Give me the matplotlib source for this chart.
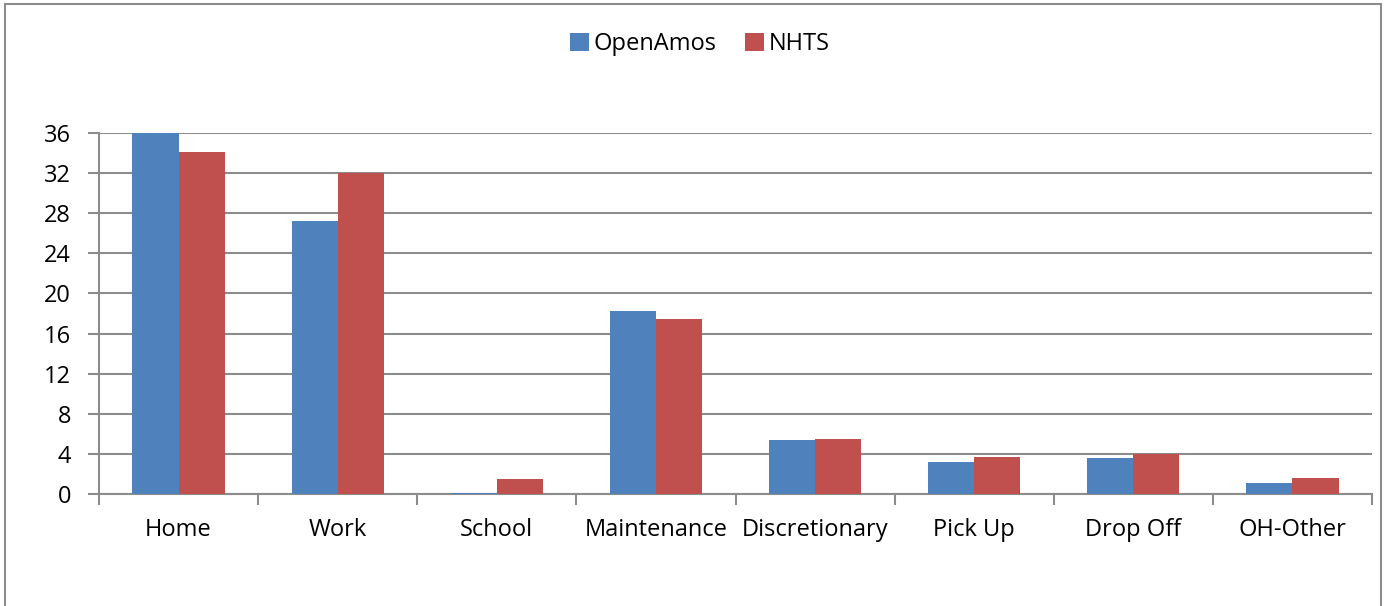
import numpy as np
import matplotlib.pyplot as plt
from matplotlib.patches import Rectangle

categories = ["Home", "Work", "School", "Maintenance", "Discretionary",
              "Pick Up", "Drop Off", "OH-Other"]
openamos = [36.0, 27.25, 0.05, 18.25, 5.38, 3.16, 3.56, 1.07]
nhts = [34.1, 32.0, 1.47, 17.45, 5.45, 3.72, 3.99, 1.63]
yticks = list(range(0, 37, 4))

plt.rcParams["font.family"] = ["Open Sans", "DejaVu Sans"]
grey = "#8c8c8c"
fs = 17

fig = plt.figure(figsize=(13.9, 6.06), dpi=100)
ax = fig.add_axes([99 / 1390, 112 / 606, (1372 - 99) / 1390, (494 - 133) / 606])

x = np.arange(len(categories))
w = 0.29
ax.bar(x - w / 2, openamos, width=w, color="#4f81bd", label="OpenAmos", zorder=3)
ax.bar(x + w / 2, nhts, width=w, color="#c0504d", label="NHTS", zorder=3)

ax.set_xlim(-0.5, len(categories) - 0.5)
ax.set_ylim(0, 36)
ax.set_yticks(yticks)
ax.tick_params(axis="y", length=8, width=1.5, color=grey, labelsize=fs, pad=12)

# category boundaries as tick marks, labels at centres
ax.set_xticks(np.arange(len(categories) + 1) - 0.5)
ax.set_xticklabels([])
ax.tick_params(axis="x", which="major", length=8, width=1.5, color=grey)
ax.set_xticks(x, minor=True)
ax.set_xticklabels(categories, minor=True, fontsize=fs)
ax.tick_params(axis="x", which="minor", length=0, pad=17)

ax.yaxis.grid(True, color=grey, linewidth=1.5, zorder=0)
ax.set_axisbelow(True)
for s in ["top", "right"]:
    ax.spines[s].set_visible(False)
for s in ["left", "bottom"]:
    ax.spines[s].set_color(grey)
    ax.spines[s].set_linewidth(1.5)

fig.legend(loc="center", bbox_to_anchor=(700 / 1390, 1 - 44 / 606), ncol=2,
           frameon=False, fontsize=fs, handlelength=0.8, handleheight=0.8,
           handletextpad=0.2, columnspacing=1.2)

fig.patches.append(Rectangle((5 / 1390, -0.05), (1381 - 5) / 1390, 1.05 - 4 / 606,
                             transform=fig.transFigure, fill=False,
                             edgecolor=grey, linewidth=1.5, clip_on=False))

fig.savefig("out.png", dpi=100)
